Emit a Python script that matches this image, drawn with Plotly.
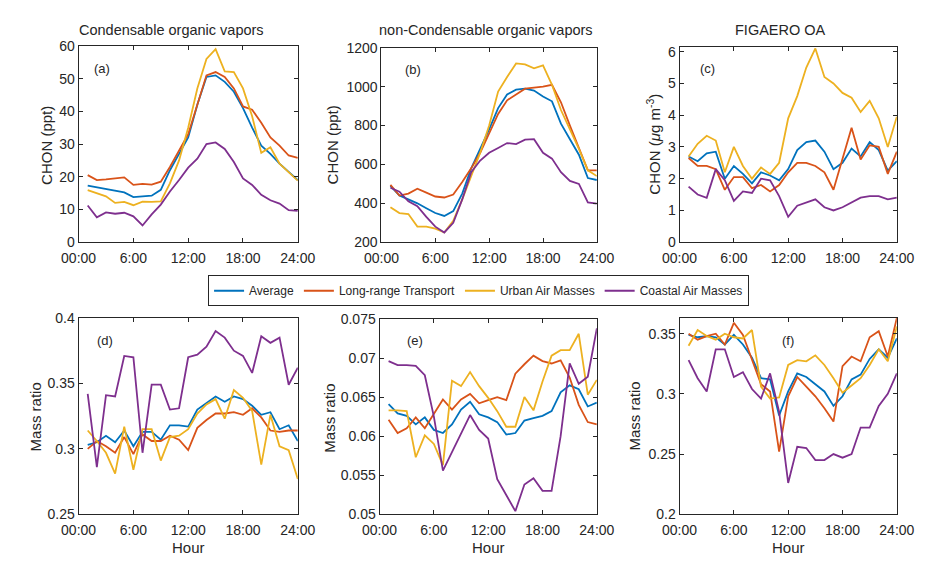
import plotly.graph_objects as go

hours = list(range(1, 25))
series_names = ["Average", "Long-range Transport", "Urban Air Masses", "Coastal Air Masses"]
colors = ["#0072BD", "#D95319", "#EDB120", "#7E2F8E"]

# (a) Condensable organic vapors, CHON (ppt)
a_avg = [17.3, 16.8, 16.2, 15.8, 15.2, 13.8, 13.9, 14.2, 16, 22, 27, 32, 42, 50.5, 51, 49, 46, 41, 35, 29.5, 27, 24, 21.5, 19]
a_lrt = [20.5, 19.0, 19.2, 19.5, 19.8, 17.5, 17.8, 17.6, 18.5, 23, 28, 33, 42, 51, 52, 50.5, 47, 41.5, 40.5, 36.5, 32, 29.5, 26.5, 25.8]
a_urb = [15.9, 15, 14, 12, 12.3, 11.3, 12.4, 12.3, 12.5, 18, 25, 35, 47, 56, 59, 52.2, 52, 47, 38.5, 27.3, 29, 24, 21.5, 18.8]
a_coa = [11.2, 7.6, 9.1, 8.7, 9, 7.9, 5.1, 8.5, 11.5, 15.5, 19, 22.8, 25.5, 30, 30.5, 28.5, 24.5, 19.5, 17.5, 14.5, 12.8, 11.8, 9.8, 9.6]

# (b) non-Condensable organic vapors, CHON (ppt)
b_avg = [490, 440, 420, 400, 375, 350, 335, 360, 450, 580, 680, 780, 890, 960, 985, 990, 980, 950, 925, 810, 730, 650, 530, 520]
b_lrt = [495, 440, 450, 475, 455, 435, 430, 445, 510, 580, 660, 760, 860, 930, 960, 990, 995, 1000, 1010, 920, 800, 680, 570, 570]
b_urb = [380, 350, 345, 280, 280, 270, 250, 310, 420, 540, 660, 800, 975, 1050, 1120, 1115, 1095, 1110, 1010, 880, 780, 680, 570, 540]
b_coa = [480, 460, 410, 385, 330, 280, 250, 300, 420, 560, 620, 660, 685, 710, 705, 728, 730, 660, 630, 560, 515, 500, 405, 398]

# (c) FIGAERO OA, CHON (ug m-3)
c_avg = [2.7, 2.55, 2.8, 2.85, 2.0, 2.4, 2.15, 1.85, 2.2, 2.1, 1.95, 2.3, 2.9, 3.15, 3.2, 2.85, 2.3, 2.5, 2.95, 2.7, 3.15, 2.9, 2.25, 2.55]
c_lrt = [2.65, 2.4, 2.4, 2.3, 1.65, 2.05, 2.05, 1.7, 1.8, 1.6, 1.8, 2.2, 2.5, 2.5, 2.4, 2.2, 1.65, 2.6, 3.6, 2.6, 3.05, 3.0, 2.15, 2.85]
c_urb = [2.7, 3.1, 3.35, 3.2, 2.2, 3.0, 2.4, 2.0, 2.35, 2.15, 2.5, 3.9, 4.6, 5.5, 6.1, 5.2, 5.0, 4.7, 4.55, 4.1, 4.45, 3.9, 3.0, 3.95]
c_coa = [1.75, 1.5, 1.4, 2.3, 1.95, 1.3, 1.6, 1.55, 2.0, 1.95, 1.45, 0.8, 1.15, 1.25, 1.35, 1.1, 1.0, 1.1, 1.25, 1.4, 1.45, 1.45, 1.35, 1.4]

# (d) Mass ratio, condensable
d_avg = [0.303, 0.305, 0.31, 0.305, 0.314, 0.302, 0.313, 0.313, 0.307, 0.318, 0.318, 0.317, 0.330, 0.335, 0.340, 0.336, 0.340, 0.338, 0.333, 0.326, 0.328, 0.315, 0.318, 0.306]
d_lrt = [0.300, 0.306, 0.302, 0.297, 0.309, 0.296, 0.311, 0.306, 0.306, 0.310, 0.307, 0.299, 0.316, 0.322, 0.327, 0.327, 0.328, 0.326, 0.331, 0.324, 0.314, 0.313, 0.314, 0.314]
d_urb = [0.314, 0.306, 0.297, 0.281, 0.317, 0.284, 0.315, 0.315, 0.291, 0.309, 0.310, 0.315, 0.327, 0.334, 0.338, 0.323, 0.345, 0.339, 0.329, 0.288, 0.326, 0.302, 0.299, 0.277]
d_coa = [0.342, 0.286, 0.341, 0.340, 0.371, 0.370, 0.297, 0.349, 0.349, 0.330, 0.331, 0.370, 0.372, 0.378, 0.390, 0.385, 0.375, 0.371, 0.358, 0.386, 0.381, 0.385, 0.349, 0.362]

# (e) Mass ratio, non-condensable
e_avg = [0.0641, 0.0629, 0.0626, 0.0615, 0.0624, 0.0608, 0.0604, 0.0615, 0.0634, 0.0644, 0.0628, 0.0624, 0.0618, 0.0602, 0.0604, 0.0620, 0.0623, 0.0626, 0.0632, 0.0656, 0.0665, 0.0660, 0.0638, 0.0643]
e_lrt = [0.0621, 0.0604, 0.0610, 0.0624, 0.0610, 0.0628, 0.0647, 0.0634, 0.0647, 0.0654, 0.0642, 0.0646, 0.0650, 0.0646, 0.0680, 0.0692, 0.0703, 0.0696, 0.0693, 0.0697, 0.0675, 0.0640, 0.0618, 0.0615]
e_urb = [0.0633, 0.0633, 0.0632, 0.0573, 0.0601, 0.0590, 0.0563, 0.0671, 0.0664, 0.0682, 0.0664, 0.0649, 0.0632, 0.0612, 0.0612, 0.0650, 0.0633, 0.0670, 0.0703, 0.0710, 0.0710, 0.0731, 0.0653, 0.0672]
e_coa = [0.0696, 0.0691, 0.0691, 0.0690, 0.0678, 0.0625, 0.0556, 0.0580, 0.0605, 0.0627, 0.0608, 0.0597, 0.0545, 0.0524, 0.0504, 0.0538, 0.0546, 0.0530, 0.0530, 0.0600, 0.0693, 0.0667, 0.0676, 0.0738]

# (f) Mass ratio, FIGAERO OA
f_avg = [0.349, 0.347, 0.348, 0.347, 0.341, 0.349, 0.341, 0.330, 0.313, 0.312, 0.282, 0.302, 0.317, 0.314, 0.308, 0.302, 0.290, 0.298, 0.312, 0.316, 0.329, 0.337, 0.330, 0.346]
f_lrt = [0.350, 0.345, 0.348, 0.350, 0.341, 0.359, 0.349, 0.328, 0.308, 0.302, 0.252, 0.298, 0.314, 0.306, 0.298, 0.288, 0.277, 0.323, 0.331, 0.327, 0.347, 0.352, 0.331, 0.363]
f_urb = [0.340, 0.353, 0.348, 0.345, 0.350, 0.347, 0.346, 0.353, 0.306, 0.296, 0.297, 0.324, 0.328, 0.327, 0.332, 0.324, 0.313, 0.301, 0.307, 0.313, 0.324, 0.337, 0.327, 0.356]
f_coa = [0.328, 0.313, 0.302, 0.337, 0.337, 0.314, 0.318, 0.304, 0.296, 0.317, 0.285, 0.226, 0.256, 0.255, 0.245, 0.245, 0.250, 0.247, 0.250, 0.272, 0.272, 0.290, 0.300, 0.317]

x_tickvals = [0, 6, 12, 18, 24]
x_ticktext = ["00:00", "6:00", "12:00", "18:00", "24:00"]

panels = [
    dict(data=[a_avg, a_lrt, a_urb, a_coa], yr=[0, 60], tv=[0, 10, 20, 30, 40, 50, 60], tt=["0", "10", "20", "30", "40", "50", "60"],
         ytitle="CHON (ppt)", label="(a)", title="Condensable organic vapors"),
    dict(data=[b_avg, b_lrt, b_urb, b_coa], yr=[200, 1200], tv=[200, 400, 600, 800, 1000, 1200], tt=["200", "400", "600", "800", "1000", "1200"],
         ytitle="CHON (ppt)", label="(b)", title="non-Condensable organic vapors"),
    dict(data=[c_avg, c_lrt, c_urb, c_coa], yr=[0, 6.15], tv=[0, 1, 2, 3, 4, 5, 6], tt=["0", "1", "2", "3", "4", "5", "6"],
         ytitle="CHON (<i>μ</i>g m<sup>-3</sup>)", label="(c)", title="FIGAERO OA"),
    dict(data=[d_avg, d_lrt, d_urb, d_coa], yr=[0.25, 0.4], tv=[0.25, 0.3, 0.35, 0.4], tt=["0.25", "0.3", "0.35", "0.4"],
         ytitle="Mass ratio", label="(d)", title=None),
    dict(data=[e_avg, e_lrt, e_urb, e_coa], yr=[0.05, 0.075], tv=[0.05, 0.055, 0.06, 0.065, 0.07, 0.075],
         tt=["0.05", "0.055", "0.06", "0.065", "0.07", "0.075"], ytitle="Mass ratio", label="(e)", title=None),
    dict(data=[f_avg, f_lrt, f_urb, f_coa], yr=[0.2, 0.363], tv=[0.2, 0.25, 0.3, 0.35], tt=["0.2", "0.25", "0.3", "0.35"],
         ytitle="Mass ratio", label="(f)", title=None),
]

W, H = 936, 566
# pixel boxes (x0, x1, ytop, ybottom)
boxes = [(63, 291, 39, 241), (378, 602, 41, 241), (688, 914, 40, 241),
         (63, 291, 319, 521), (376, 602, 320, 521), (688, 914, 319, 521)]
label_pos = [(77, 62), (400, 63), (707, 62), (80, 342), (402, 342), (792, 342)]
title_x = [160, 487, 793]
ytitle_pos = [(29, 141), (327, 141), (660, 140), (18, 421), (323, 422), (641, 420)]
hour_x = [177, 489, 801]

FONT = "Arial, Liberation Sans, Helvetica, sans-serif"
axcol = "#262626"

fig = go.Figure()
layout = dict(width=W, height=H, margin=dict(l=0, r=0, t=0, b=0), plot_bgcolor="white", paper_bgcolor="white",
              font=dict(family=FONT, size=13, color=axcol), showlegend=True)
annotations = []
for i, p in enumerate(panels):
    k = i + 1
    xa = "xaxis" if k == 1 else f"xaxis{k}"
    ya = "yaxis" if k == 1 else f"yaxis{k}"
    xref = "x" if k == 1 else f"x{k}"
    yref = "y" if k == 1 else f"y{k}"
    x0, x1, yt, yb = boxes[i]
    for j, vals in enumerate(p["data"]):
        fig.add_trace(go.Scatter(x=hours, y=vals, mode="lines", name=series_names[j],
                                 line=dict(color=colors[j], width=1.8),
                                 xaxis=xref, yaxis=yref, showlegend=(i == 0)))
    layout[xa] = dict(domain=[x0 / W, x1 / W], anchor=yref, range=[0, 24], tickvals=x_tickvals, ticktext=x_ticktext,
                      ticks="inside", ticklen=4, tickcolor=axcol, mirror="allticks", showline=True, linecolor=axcol,
                      linewidth=1, showgrid=False, zeroline=False, tickfont=dict(size=14, color=axcol),
                      ticklabelstandoff=3)
    layout[ya] = dict(domain=[1 - yb / H, 1 - yt / H], anchor=xref, range=p["yr"], tickvals=p["tv"], ticktext=p["tt"],
                      ticks="inside", ticklen=4, tickcolor=axcol, mirror="allticks", showline=True, linecolor=axcol,
                      linewidth=1, showgrid=False, zeroline=False, tickfont=dict(size=14, color=axcol))
    lx, ly = label_pos[i]
    annotations.append(dict(text=p["label"], x=lx / W, y=1 - ly / H, xref="paper", yref="paper", xanchor="left",
                            yanchor="middle", showarrow=False, font=dict(size=13, color=axcol)))
    tx, ty = ytitle_pos[i]
    annotations.append(dict(text=p["ytitle"], x=tx / W, y=1 - ty / H, xref="paper", yref="paper", xanchor="center",
                            yanchor="middle", textangle=-90, showarrow=False, font=dict(size=15, color=axcol)))
    if p["title"]:
        annotations.append(dict(text=p["title"], x=title_x[i] / W, y=1 - 23 / H, xref="paper", yref="paper",
                                xanchor="center", yanchor="middle", showarrow=False, font=dict(size=14.5, color=axcol)))
    else:
        annotations.append(dict(text="Hour", x=hour_x[i - 3] / W, y=1 - 555 / H, xref="paper", yref="paper",
                                xanchor="center", yanchor="middle", showarrow=False, font=dict(size=15, color=axcol)))

layout["annotations"] = annotations
layout["legend"] = dict(orientation="h", x=479 / W, y=1 - 291 / H, xanchor="center", yanchor="middle",
                        bordercolor=axcol, borderwidth=1, bgcolor="white", font=dict(size=12, color=axcol),
                        itemwidth=30, tracegroupgap=0)
fig.update_layout(**layout)
fig.write_html("out.html")
